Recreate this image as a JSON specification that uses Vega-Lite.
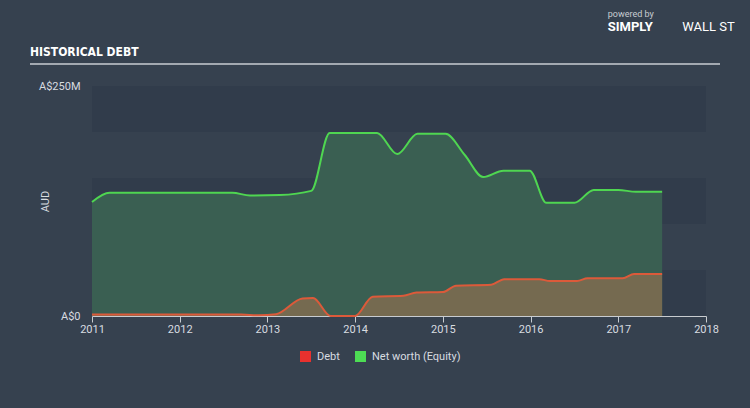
{
  "$schema": "https://vega.github.io/schema/vega-lite/v6.json",
  "autosize": {"type": "none"},
  "width": 614,
  "height": 230,
  "padding": {"left": 92, "top": 86, "right": 44, "bottom": 92},
  "background": "#36414f",
  "config": {
    "view": {"stroke": null},
    "font": "Roboto",
    "axis": {"labelColor": "#d8dce0", "titleColor": "#d8dce0", "labelFont": "Roboto", "titleFont": "Roboto", "labelFontSize": 11, "titleFontSize": 11, "titleFontWeight": "normal", "grid": false},
    "legend": {"labelColor": "#d8dce0", "labelFont": "Roboto", "labelFontSize": 11}
  },
  "datasets": {
    "bands": [
      {"lo": 0, "hi": 50},
      {"lo": 100, "hi": 150},
      {"lo": 200, "hi": 250}
    ],
    "series": [
      {"series": "Net worth (Equity)", "year": 2011.0, "value": 124},
      {"series": "Net worth (Equity)", "year": 2011.2, "value": 134},
      {"series": "Net worth (Equity)", "year": 2012.0, "value": 134},
      {"series": "Net worth (Equity)", "year": 2012.6, "value": 134},
      {"series": "Net worth (Equity)", "year": 2012.8, "value": 131},
      {"series": "Net worth (Equity)", "year": 2013.14, "value": 131.5},
      {"series": "Net worth (Equity)", "year": 2013.5, "value": 136},
      {"series": "Net worth (Equity)", "year": 2013.71, "value": 199},
      {"series": "Net worth (Equity)", "year": 2014.25, "value": 199},
      {"series": "Net worth (Equity)", "year": 2014.48, "value": 176},
      {"series": "Net worth (Equity)", "year": 2014.71, "value": 198},
      {"series": "Net worth (Equity)", "year": 2015.03, "value": 198},
      {"series": "Net worth (Equity)", "year": 2015.25, "value": 175},
      {"series": "Net worth (Equity)", "year": 2015.46, "value": 151},
      {"series": "Net worth (Equity)", "year": 2015.69, "value": 158},
      {"series": "Net worth (Equity)", "year": 2015.99, "value": 158},
      {"series": "Net worth (Equity)", "year": 2016.18, "value": 123},
      {"series": "Net worth (Equity)", "year": 2016.5, "value": 123},
      {"series": "Net worth (Equity)", "year": 2016.72, "value": 137},
      {"series": "Net worth (Equity)", "year": 2017.0, "value": 137},
      {"series": "Net worth (Equity)", "year": 2017.2, "value": 135},
      {"series": "Net worth (Equity)", "year": 2017.5, "value": 135},
      {"series": "Debt", "year": 2011.0, "value": 1.5},
      {"series": "Debt", "year": 2012.7, "value": 1.5},
      {"series": "Debt", "year": 2012.9, "value": 0.8},
      {"series": "Debt", "year": 2013.1, "value": 2},
      {"series": "Debt", "year": 2013.4, "value": 19},
      {"series": "Debt", "year": 2013.52, "value": 19.5},
      {"series": "Debt", "year": 2013.72, "value": 0},
      {"series": "Debt", "year": 2014.0, "value": 0},
      {"series": "Debt", "year": 2014.2, "value": 21},
      {"series": "Debt", "year": 2014.55, "value": 22},
      {"series": "Debt", "year": 2014.7, "value": 25.5},
      {"series": "Debt", "year": 2015.0, "value": 26},
      {"series": "Debt", "year": 2015.15, "value": 33},
      {"series": "Debt", "year": 2015.55, "value": 34},
      {"series": "Debt", "year": 2015.7, "value": 40},
      {"series": "Debt", "year": 2016.1, "value": 40},
      {"series": "Debt", "year": 2016.22, "value": 38},
      {"series": "Debt", "year": 2016.53, "value": 38},
      {"series": "Debt", "year": 2016.65, "value": 41},
      {"series": "Debt", "year": 2017.05, "value": 41},
      {"series": "Debt", "year": 2017.18, "value": 45.6},
      {"series": "Debt", "year": 2017.5, "value": 45.6}
    ]
  },
  "layer": [
    {
      "data": {"name": "bands"},
      "mark": {"type": "rect", "color": "#313c4b"},
      "encoding": {
        "x": {"datum": 2011, "type": "quantitative", "scale": {"domain": [2011, 2018], "nice": false, "zero": false},
          "axis": {"values": [2011, 2012, 2013, 2014, 2015, 2016, 2017, 2018], "format": "d", "title": null, "domainColor": "#c8ccd0", "domainWidth": 1, "tickColor": "#c8ccd0", "tickSize": 6, "labelPadding": 1, "labelFlush": false}},
        "x2": {"datum": 2018},
        "y": {"field": "lo", "type": "quantitative", "scale": {"domain": [0, 250], "nice": false},
          "axis": {"values": [0, 250], "labelExpr": "datum.value == 0 ? 'A$0' : 'A$250M'", "title": "AUD", "domain": false, "ticks": false, "labelPadding": 12, "titlePadding": -12}},
        "y2": {"field": "hi"}
      }
    },
    {
      "data": {"name": "series"},
      "transform": [{"filter": "datum.series == 'Net worth (Equity)'"}],
      "mark": {"type": "area", "interpolate": "monotone", "color": "#3b6152", "opacity": 0.95},
      "encoding": {
        "x": {"field": "year", "type": "quantitative"},
        "y": {"field": "value", "type": "quantitative"}
      }
    },
    {
      "data": {"name": "series"},
      "transform": [{"filter": "datum.series == 'Net worth (Equity)'"}],
      "mark": {"type": "line", "interpolate": "monotone", "color": "#4fd651", "strokeWidth": 2},
      "encoding": {
        "x": {"field": "year", "type": "quantitative"},
        "y": {"field": "value", "type": "quantitative"}
      }
    },
    {
      "data": {"name": "series"},
      "transform": [{"filter": "datum.series == 'Debt'"}],
      "mark": {"type": "area", "interpolate": "monotone", "color": "#756a50"},
      "encoding": {
        "x": {"field": "year", "type": "quantitative"},
        "y": {"field": "value", "type": "quantitative"}
      }
    },
    {
      "data": {"name": "series"},
      "transform": [{"filter": "datum.series == 'Debt'"}],
      "mark": {"type": "line", "interpolate": "monotone", "color": "#dc5a3a", "strokeWidth": 2},
      "encoding": {
        "x": {"field": "year", "type": "quantitative"},
        "y": {"field": "value", "type": "quantitative"}
      }
    },
    {
      "data": {"name": "series"},
      "transform": [{"filter": "datum.value < 0"}],
      "mark": {"type": "square", "filled": true, "opacity": 1},
      "encoding": {
        "x": {"field": "year", "type": "quantitative"},
        "y": {"field": "value", "type": "quantitative"},
        "color": {"field": "series", "type": "nominal",
          "scale": {"domain": ["Debt", "Net worth (Equity)"], "range": ["#e8312e", "#4ddc54"]},
          "legend": {"title": null, "orient": "none", "legendX": 207, "legendY": 264, "direction": "horizontal", "symbolType": "square", "symbolSize": 121, "columnPadding": 14, "labelOffset": 5}}
      }
    },
    {
      "data": {"values": [{}]},
      "mark": {"type": "rule", "color": "#c8cdd2", "strokeWidth": 1.5},
      "encoding": {
        "x": {"datum": 2010.293, "type": "quantitative"},
        "x2": {"datum": 2018.16},
        "y": {"datum": 273.9, "type": "quantitative"}
      }
    },
    {
      "data": {"values": [{}]},
      "mark": {"type": "text", "text": "HISTORICAL DEBT", "color": "#ffffff", "font": "DejaVu Sans Condensed", "fontSize": 12, "fontWeight": "bold", "align": "left", "baseline": "middle"},
      "encoding": {
        "x": {"datum": 2010.293, "type": "quantitative"},
        "y": {"datum": 287, "type": "quantitative"}
      }
    },
    {
      "data": {"values": [{}]},
      "mark": {"type": "text", "text": "powered by", "color": "#c8cdd2", "font": "Roboto", "fontSize": 9, "align": "left", "baseline": "middle"},
      "encoding": {
        "x": {"datum": 2016.88, "type": "quantitative"},
        "y": {"datum": 328.3, "type": "quantitative"}
      }
    },
    {
      "data": {"values": [{}]},
      "mark": {"type": "text", "text": "SIMPLY", "color": "#ffffff", "font": "Roboto", "fontSize": 13, "fontWeight": "bold", "align": "left", "baseline": "middle"},
      "encoding": {
        "x": {"datum": 2016.88, "type": "quantitative"},
        "y": {"datum": 314.1, "type": "quantitative"}
      }
    },
    {
      "data": {"values": [{}]},
      "mark": {"type": "text", "text": "WALL ST", "color": "#ffffff", "font": "Roboto", "fontSize": 13, "align": "left", "baseline": "middle"},
      "encoding": {
        "x": {"datum": 2017.73, "type": "quantitative"},
        "y": {"datum": 314.1, "type": "quantitative"}
      }
    }
  ]
}
